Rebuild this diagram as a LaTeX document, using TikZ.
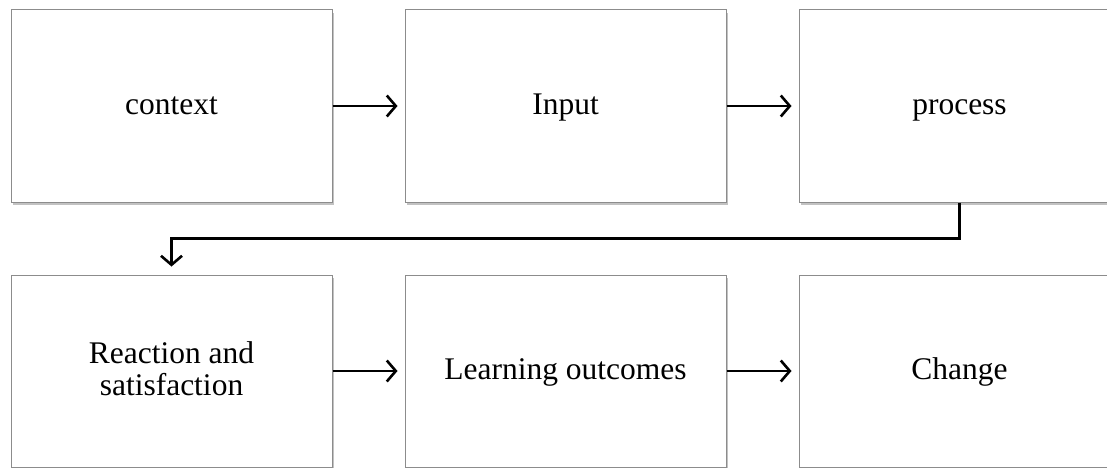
\documentclass[tikz,border=0pt]{standalone}
\usepackage{fontspec}
\setmainfont{Liberation Serif}
\usepackage{xcolor}
\usetikzlibrary{arrows.meta,positioning,shadows}
\definecolor{boxline}{HTML}{8C8C8C}
\tikzset{
  stage/.style={rectangle,draw=boxline,line width=1pt,fill=white,
    minimum width=321pt,minimum height=192pt,inner sep=0pt,align=center,
    text height=22pt,text depth=5pt,
    font=\fontsize{31.5}{32}\selectfont,
    drop shadow={shadow xshift=1.5pt,shadow yshift=-3pt,opacity=0.4,fill=black!60}},
  flow/.style={-{Straight Barb[length=9pt,width=21pt]},line width=2.6pt,shorten >=7pt},
}
\begin{document}
\begin{tikzpicture}[x=1pt,y=1pt]
        \useasboundingbox (0,0) rectangle (1107,467);
        \node[stage] (ctx)  at (171.5,361) {context};
        \node[stage,right=72pt of ctx] (inp)  {Input};
        \node[stage,right=72pt of inp] (proc) {process};
        \node[stage,text height=53pt] (react) at (171.5,96) {Reaction and\\satisfaction};
        \node[stage,right=72pt of react] (learn)  {Learning outcomes};
        \node[stage,right=72pt of learn] (chg) {Change};
        \draw[flow] (ctx) -- (inp);
        \draw[flow] (inp) -- (proc);
        \draw[flow,shorten >=8pt] (proc.south) -- ++(0,-36) -| (react.north);
        \draw[flow] (react) -- (learn);
        \draw[flow] (learn) -- (chg);
      \end{tikzpicture}
\end{document}
